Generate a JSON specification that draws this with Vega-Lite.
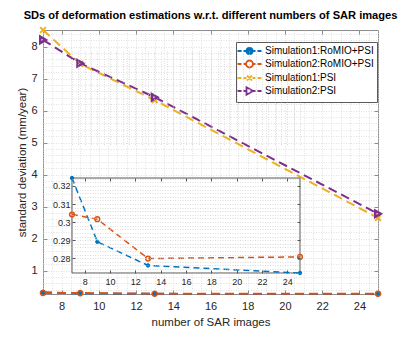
{
  "$schema": "https://vega.github.io/schema/vega-lite/v6.json",
  "width": 335,
  "height": 264,
  "autosize": "none",
  "padding": {"left": 43, "top": 30, "right": 37, "bottom": 52},
  "background": "white",
  "title": {"text": "SDs of deformation estimations w.r.t. different numbers of SAR images", "fontSize": 11.1, "fontWeight": "bold", "color": "#000000", "font": "Liberation Sans", "offset": 2},
  "datasets": {
    "sd": [
      {"n": 7, "sd": 0.3244, "series": "Simulation1:RoMIO+PSI"},
      {"n": 9, "sd": 0.2891, "series": "Simulation1:RoMIO+PSI"},
      {"n": 13, "sd": 0.2760, "series": "Simulation1:RoMIO+PSI"},
      {"n": 25, "sd": 0.2718, "series": "Simulation1:RoMIO+PSI"},
      {"n": 7, "sd": 0.3042, "series": "Simulation2:RoMIO+PSI"},
      {"n": 9, "sd": 0.3016, "series": "Simulation2:RoMIO+PSI"},
      {"n": 13, "sd": 0.2798, "series": "Simulation2:RoMIO+PSI"},
      {"n": 25, "sd": 0.2807, "series": "Simulation2:RoMIO+PSI"},
      {"n": 7, "sd": 8.52, "series": "Simulation1:PSI"},
      {"n": 9, "sd": 7.46, "series": "Simulation1:PSI"},
      {"n": 13, "sd": 6.33, "series": "Simulation1:PSI"},
      {"n": 25, "sd": 2.65, "series": "Simulation1:PSI"},
      {"n": 7, "sd": 8.21, "series": "Simulation2:PSI"},
      {"n": 9, "sd": 7.48, "series": "Simulation2:PSI"},
      {"n": 13, "sd": 6.42, "series": "Simulation2:PSI"},
      {"n": 25, "sd": 2.78, "series": "Simulation2:PSI"}
    ]
  },
  "config": {
    "font": "Liberation Sans",
    "view": {"stroke": "#8c8c8c", "strokeWidth": 1},
    "axis": {
      "labelFont": "Liberation Sans",
      "titleFont": "Liberation Sans",
      "labelColor": "#262626",
      "titleColor": "#262626",
      "domainColor": "#8c8c8c",
      "tickColor": "#8c8c8c",
      "gridColor": "#d6d6d6",
      "gridDash": [1, 1.5],
      "gridWidth": 0.7,
      "labelFontSize": 11,
      "titleFontSize": 11.5,
      "titleFontWeight": "normal",
      "labelOverlap": false,
      "labelFlush": false
    },
    "legend": {
      "labelFont": "Liberation Sans",
      "labelFontSize": 10,
      "labelColor": "#000000"
    }
  },
  "layer": [
    {
      "data": {"name": "sd"},
      "mark": {"type": "line", "strokeDash": [9, 5], "strokeWidth": 2},
      "encoding": {
        "x": {"field": "n", "type": "quantitative", "scale": {"domain": [7, 25], "nice": false, "zero": false},
          "axis": {"orient": "bottom", "title": "number of SAR images", "grid": true,
            "values": [7,7.5,8,8.5,9,9.5,10,10.5,11,11.5,12,12.5,13,13.5,14,14.5,15,15.5,16,16.5,17,17.5,18,18.5,19,19.5,20,20.5,21,21.5,22,22.5,23,23.5,24,24.5,25],
            "labelExpr": "datum.value % 2 == 0 ? format(datum.value, 'd') : ''",
            "tickOpacity": {"condition": {"test": "datum.value % 2 == 0", "value": 1}, "value": 0},
            "tickSize": -4, "labelPadding": 10, "titleY": 28, "titleBaseline": "middle", "domain": false}},
        "y": {"field": "sd", "type": "quantitative", "scale": {"domain": [0.2718, 8.52], "nice": false, "zero": false},
          "axis": {"orient": "left", "title": "standard deviation (mm/year)", "grid": true,
            "values": [0.4,0.6,0.8,1,1.2,1.4,1.6,1.8,2,2.2,2.4,2.6,2.8,3,3.2,3.4,3.6,3.8,4,4.2,4.4,4.6,4.8,5,5.2,5.4,5.6,5.8,6,6.2,6.4,6.6,6.8,7,7.2,7.4,7.6,7.8,8,8.2,8.4],
            "labelExpr": "abs(datum.value - round(datum.value)) < 0.000001 ? format(datum.value, 'd') : ''",
            "tickOpacity": {"condition": {"test": "abs(datum.value - round(datum.value)) < 0.000001", "value": 1}, "value": 0},
            "tickSize": -4, "labelPadding": 10, "titleX": -21, "titleBaseline": "middle", "domain": false}},
        "stroke": {"field": "series", "type": "nominal", "legend": null,
          "scale": {"domain": ["Simulation1:RoMIO+PSI", "Simulation2:RoMIO+PSI", "Simulation1:PSI", "Simulation2:PSI"], "range": ["#0072BD", "#D95319", "#EDB120", "#7E2F8E"]}}
      }
    },
    {
      "data": {"name": "sd"},
      "mark": {"type": "point", "opacity": 1},
      "encoding": {
        "x": {"field": "n", "type": "quantitative", "scale": {"domain": [7, 25], "nice": false, "zero": false},
          "axis": {"orient": "top", "title": null, "labels": false, "grid": false, "domain": false, "tickSize": -4, "values": [8,10,12,14,16,18,20,22,24]}},
        "y": {"field": "sd", "type": "quantitative", "scale": {"domain": [0.2718, 8.52], "nice": false, "zero": false},
          "axis": {"orient": "right", "title": null, "labels": false, "grid": false, "domain": false, "tickSize": -4, "values": [1,2,3,4,5,6,7,8]}},
        "stroke": {"field": "series", "type": "nominal", "legend": null,
          "scale": {"domain": ["Simulation1:RoMIO+PSI", "Simulation2:RoMIO+PSI", "Simulation1:PSI", "Simulation2:PSI"], "range": ["#0072BD", "#D95319", "#EDB120", "#7E2F8E"]}},
        "fill": {"field": "series", "type": "nominal", "legend": null,
          "scale": {"domain": ["Simulation1:RoMIO+PSI", "Simulation2:RoMIO+PSI", "Simulation1:PSI", "Simulation2:PSI"], "range": ["#0072BD", "transparent", "transparent", "transparent"]}},
        "shape": {"field": "series", "type": "nominal", "legend": null,
          "scale": {"domain": ["Simulation1:RoMIO+PSI", "Simulation2:RoMIO+PSI", "Simulation1:PSI", "Simulation2:PSI"], "range": ["circle", "circle", "M-1,-1L1,1M1,-1L-1,1", "triangle-right"]}},
        "size": {"field": "series", "type": "nominal", "legend": null,
          "scale": {"domain": ["Simulation1:RoMIO+PSI", "Simulation2:RoMIO+PSI", "Simulation1:PSI", "Simulation2:PSI"], "range": [20, 40, 60, 80]}},
        "strokeWidth": {"field": "series", "type": "nominal", "legend": null,
          "scale": {"domain": ["Simulation1:RoMIO+PSI", "Simulation2:RoMIO+PSI", "Simulation1:PSI", "Simulation2:PSI"], "range": [1, 2.5, 2, 2]}}
      }
    },
    {
      "data": {"name": "sd"},
      "transform": [{"filter": "datum.n < 0"}],
      "mark": {"type": "point", "opacity": 1},
      "encoding": {
        "stroke": {"field": "series", "type": "nominal",
          "scale": {"domain": ["Simulation1:RoMIO+PSI", "Simulation2:RoMIO+PSI", "Simulation1:PSI", "Simulation2:PSI"], "range": ["#0072BD", "#D95319", "#EDB120", "#7E2F8E"]},
          "legend": {"title": null, "orient": "none", "legendX": 193, "legendY": 12, "padding": 3, "rowPadding": -3,
            "symbolSize": 100, "symbolOffset": 4.5, "labelOffset": 9.5, "symbolStrokeWidth": 1.8,
            "fillColor": "white", "strokeColor": "#5a5a5a"}},
        "fill": {"field": "series", "type": "nominal",
          "scale": {"domain": ["Simulation1:RoMIO+PSI", "Simulation2:RoMIO+PSI", "Simulation1:PSI", "Simulation2:PSI"], "range": ["#0072BD", "transparent", "transparent", "transparent"]},
          "legend": {"title": null, "orient": "none", "legendX": 193, "legendY": 12, "padding": 3, "rowPadding": -3,
            "symbolSize": 100, "symbolOffset": 4.5, "labelOffset": 9.5, "symbolStrokeWidth": 1.8,
            "fillColor": "white", "strokeColor": "#5a5a5a"}},
        "shape": {"field": "series", "type": "nominal",
          "scale": {"domain": ["Simulation1:RoMIO+PSI", "Simulation2:RoMIO+PSI", "Simulation1:PSI", "Simulation2:PSI"],
            "range": [
              "M-2.4,0H-1.6M-1.2,0H1.2M1.6,0H2.4M-0.6,0A0.6,0.6 0 1,1 0.6,0A0.6,0.6 0 1,1 -0.6,0Z",
              "M-2.4,0H-1.6M-1.2,0H-0.7M0.7,0H1.2M1.6,0H2.4M-0.7,0A0.7,0.7 0 1,1 0.7,0A0.7,0.7 0 1,1 -0.7,0Z",
              "M-2.4,0H-1.6M-1.2,0H-0.6M0.6,0H1.2M1.6,0H2.4M-0.5,-0.5L0.5,0.5M0.5,-0.5L-0.5,0.5",
              "M-2.4,0H-1.6M-1.2,0H-0.6M0.7,0H1.2M1.6,0H2.4M-0.6,-0.75L0.7,0L-0.6,0.75Z"
            ]},
          "legend": {"title": null, "orient": "none", "legendX": 193, "legendY": 12, "padding": 3, "rowPadding": -3,
            "symbolSize": 100, "symbolOffset": 4.5, "labelOffset": 9.5, "symbolStrokeWidth": 1.8,
            "fillColor": "white", "strokeColor": "#5a5a5a"}}
      }
    },
    {
      "data": {"values": [{}]},
      "mark": {"type": "rect", "fill": "white", "stroke": "#555555", "strokeWidth": 1},
      "encoding": {
        "x": {"datum": 7, "type": "quantitative", "scale": {"domain": [7, 25], "range": [29, 257], "nice": false, "zero": false},
          "axis": {"orient": "bottom", "offset": -21, "title": null, "grid": true, "zindex": 1, "gridColor": "#cccccc",
            "values": [7,7.5,8,8.5,9,9.5,10,10.5,11,11.5,12,12.5,13,13.5,14,14.5,15,15.5,16,16.5,17,17.5,18,18.5,19,19.5,20,20.5,21,21.5,22,22.5,23,23.5,24,24.5,25],
            "labelExpr": "datum.value % 2 == 0 ? format(datum.value, 'd') : ''",
            "tickOpacity": {"condition": {"test": "datum.value % 2 == 0", "value": 1}, "value": 0},
            "tickSize": -3, "tickColor": "#555555", "labelPadding": 7, "labelFontSize": 9, "domain": false}},
        "x2": {"datum": 25},
        "y": {"datum": 0.2718, "type": "quantitative", "scale": {"domain": [0.2718, 0.3244], "range": [243, 148], "nice": false, "zero": false},
          "axis": {"orient": "left", "offset": -29, "title": null, "grid": true, "zindex": 1, "gridColor": "#cccccc",
            "values": [0.272,0.274,0.276,0.278,0.28,0.282,0.284,0.286,0.288,0.29,0.292,0.294,0.296,0.298,0.3,0.302,0.304,0.306,0.308,0.31,0.312,0.314,0.316,0.318,0.32,0.322,0.324],
            "labelExpr": "abs(datum.value * 100 - round(datum.value * 100)) < 0.000001 ? format(datum.value, '.2~f') : ''",
            "tickOpacity": {"condition": {"test": "abs(datum.value * 100 - round(datum.value * 100)) < 0.000001", "value": 1}, "value": 0},
            "tickSize": -3, "tickColor": "#555555", "labelPadding": 5, "labelFontSize": 9, "domain": false}},
        "y2": {"datum": 0.3244}
      }
    },
    {
      "data": {"name": "sd"},
      "transform": [{"filter": "indexof(datum.series, 'RoMIO') >= 0"}],
      "mark": {"type": "line", "strokeDash": [6, 4], "strokeWidth": 1.5},
      "encoding": {
        "x": {"field": "n", "type": "quantitative", "scale": {"domain": [7, 25], "range": [29, 257], "nice": false, "zero": false},
          "axis": {"orient": "top", "offset": -148, "title": null, "labels": false, "grid": false, "domain": false, "zindex": 1, "tickSize": -3, "tickColor": "#555555", "values": [8,10,12,14,16,18,20,22,24]}},
        "y": {"field": "sd", "type": "quantitative", "scale": {"domain": [0.2718, 0.3244], "range": [243, 148], "nice": false, "zero": false},
          "axis": {"orient": "right", "offset": -78, "title": null, "labels": false, "grid": false, "domain": false, "zindex": 1, "tickSize": -3, "tickColor": "#555555", "values": [0.28, 0.29, 0.3, 0.31, 0.32]}},
        "stroke": {"field": "series", "type": "nominal", "legend": null,
          "scale": {"domain": ["Simulation1:RoMIO+PSI", "Simulation2:RoMIO+PSI"], "range": ["#0072BD", "#D95319"]}}
      }
    },
    {
      "data": {"name": "sd"},
      "transform": [{"filter": "indexof(datum.series, 'RoMIO') >= 0"}],
      "mark": {"type": "point", "opacity": 1},
      "encoding": {
        "x": {"field": "n", "type": "quantitative", "scale": {"domain": [7, 25], "range": [29, 257], "nice": false, "zero": false}, "axis": null},
        "y": {"field": "sd", "type": "quantitative", "scale": {"domain": [0.2718, 0.3244], "range": [243, 148], "nice": false, "zero": false}, "axis": null},
        "stroke": {"field": "series", "type": "nominal", "legend": null,
          "scale": {"domain": ["Simulation1:RoMIO+PSI", "Simulation2:RoMIO+PSI"], "range": ["#0072BD", "#D95319"]}},
        "fill": {"field": "series", "type": "nominal", "legend": null,
          "scale": {"domain": ["Simulation1:RoMIO+PSI", "Simulation2:RoMIO+PSI"], "range": ["#0072BD", "transparent"]}},
        "size": {"field": "series", "type": "nominal", "legend": null,
          "scale": {"domain": ["Simulation1:RoMIO+PSI", "Simulation2:RoMIO+PSI"], "range": [12, 22]}},
        "strokeWidth": {"field": "series", "type": "nominal", "legend": null,
          "scale": {"domain": ["Simulation1:RoMIO+PSI", "Simulation2:RoMIO+PSI"], "range": [1, 1.5]}}
      }
    }
  ],
  "resolve": {
    "scale": {"x": "independent", "y": "independent", "stroke": "independent", "fill": "independent", "shape": "independent", "size": "independent", "strokeWidth": "independent"},
    "axis": {"x": "independent", "y": "independent"}
  }
}
